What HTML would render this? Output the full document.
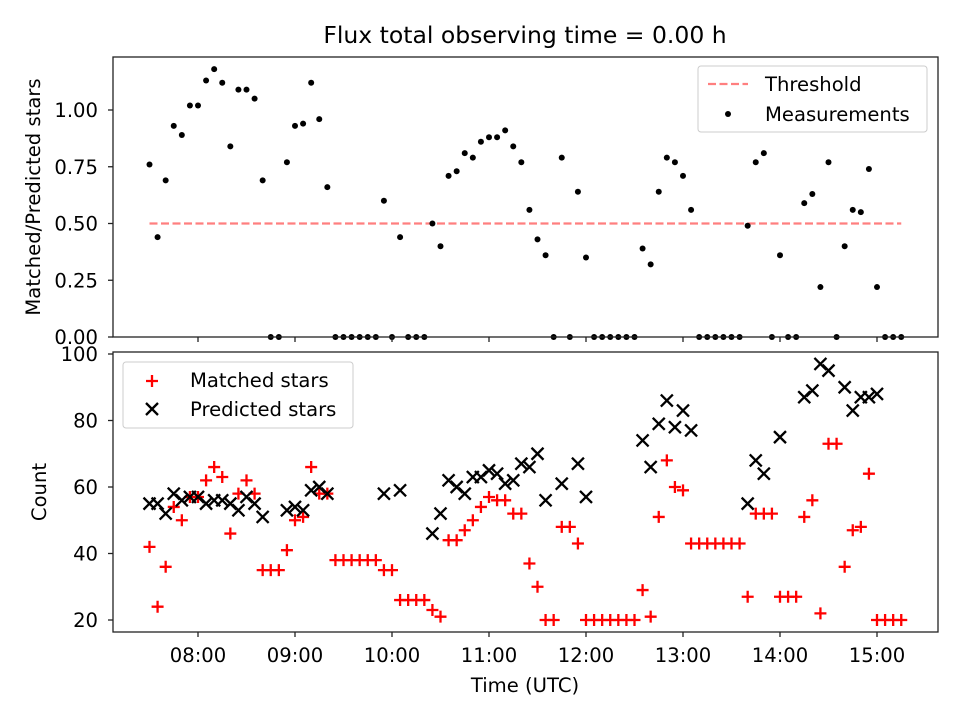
<!DOCTYPE html>
<html><head><meta charset="utf-8"><style>
body{margin:0;background:#fff;}
svg{display:block;font-family:"DejaVu Sans","Liberation Sans",sans-serif;}
</style></head><body>
<svg id="c" width="960" height="720" viewBox="0 0 960 720">
<rect width="960" height="720" fill="#fff"/>
<text x="525" y="43" font-size="23.5" text-anchor="middle">Flux total observing time = 0.00 h</text>
<g id="gtop"></g>
<g id="gbot"></g>
</svg>
<script>
const ratio=[0.76,0.44,0.69,0.93,0.89,1.02,1.02,1.13,1.18,1.12,0.84,1.09,1.09,1.05,0.69,0,0,0.77,0.93,0.94,1.12,0.96,0.66,0,0,0,0,0,0,0.60,0,0.44,0,0,0,0.50,0.40,0.71,0.73,0.81,0.79,0.86,0.88,0.88,0.91,0.84,0.77,0.56,0.43,0.36,0,0.79,0,0.64,0.35,0,0,0,0,0,0,0.39,0.32,0.64,0.79,0.77,0.71,0.56,0,0,0,0,0,0,0.49,0.77,0.81,0,0.36,0,0,0.59,0.63,0.22,0.77,0,0.40,0.56,0.55,0.74,0.22,0,0,0];
const matched=[42,24,36,54,50,57,57,62,66,63,46,58,62,58,35,35,35,41,50,51,66,58,58,38,38,38,38,38,38,35,35,26,26,26,26,23,21,44,44,47,50,54,57,56,56,52,52,37,30,20,20,48,48,43,20,20,20,20,20,20,20,29,21,51,68,60,59,43,43,43,43,43,43,43,27,52,52,52,27,27,27,51,56,22,73,73,36,47,48,64,20,20,20,20];
const predicted=[55,55,52,58,56,57,57,55,56,56,55,53,57,55,51,null,null,53,54,53,59,60,58,null,null,null,null,null,null,58,null,59,null,null,null,46,52,62,60,58,63,63,65,64,61,62,67,66,70,56,null,61,null,67,57,null,null,null,null,null,null,74,66,79,86,78,83,77,null,null,null,null,null,null,55,68,64,null,75,null,null,87,89,97,95,null,90,83,87,87,88,null,null,null];
const startHour=7.5, stepMin=5;
const xTicks=["08:00","09:00","10:00","11:00","12:00","13:00","14:00","15:00"];
const yTicksTop=[0,0.25,0.5,0.75,1.0];
const yTicksBot=[20,40,60,80,100];
const threshold=0.5;

const NS="http://www.w3.org/2000/svg";
const L=113,R=938;
const FS=19.6;
const xs=h=>198+(h-8)*97;
const yt=v=>337-v*227;
const yb=v=>620-(v-20)*3.325;
function el(p,tag,a){const e=document.createElementNS(NS,tag);for(const k in a)e.setAttribute(k,a[k]);p.appendChild(e);return e;}
const gTop=document.getElementById('gtop'),gBot=document.getElementById('gbot');
const tOf=i=>startHour+i*stepMin/60;

const th=el(gTop,'line',{x1:xs(tOf(0)),x2:xs(tOf(ratio.length-1)),y1:yt(threshold),y2:yt(threshold),stroke:'#ff0000','stroke-opacity':0.5,'stroke-width':2.2,'stroke-dasharray':'8,3.5'});


ratio.forEach((v,i)=>{
  const c=el(gTop,'circle',{cx:xs(tOf(i)),cy:yt(v),r:3,fill:'#000'});
  
  
});
function plus(g,x,y){return el(g,'path',{d:`M${x-6},${y}H${x+6}M${x},${y-6}V${y+6}`,stroke:'#f00','stroke-width':2.3});}
function cross(g,x,y){return el(g,'path',{d:`M${x-6},${y-6}L${x+6},${y+6}M${x-6},${y+6}L${x+6},${y-6}`,stroke:'#000','stroke-width':2.3});}
matched.forEach((v,i)=>{
  const p=plus(gBot,xs(tOf(i)),yb(v));
  
  
});
predicted.forEach((v,i)=>{
  if(v===null)return;
  const p=cross(gBot,xs(tOf(i)),yb(v));
  
  
});
const f1=el(gTop,'rect',{x:L,y:57,width:R-L,height:280,fill:'none',stroke:'#222','stroke-width':1.3});


const f2=el(gBot,'rect',{x:L,y:352,width:R-L,height:280,fill:'none',stroke:'#222','stroke-width':1.3});


xTicks.forEach((s,i)=>{
  const x=xs(8+i);
  el(gTop,'line',{x1:x,x2:x,y1:337,y2:342,stroke:'#222','stroke-width':1.3});
  el(gBot,'line',{x1:x,x2:x,y1:632,y2:637,stroke:'#222','stroke-width':1.3});
  const t=el(gBot,'text',{x:x,y:662,'font-size':FS,'text-anchor':'middle'});t.textContent=s;
  
  
});
yTicksTop.forEach(v=>{
  const y=yt(v);
  el(gTop,'line',{x1:L-5,x2:L,y1:y,y2:y,stroke:'#222','stroke-width':1.3});
  const t=el(gTop,'text',{x:98,y:y+7,'font-size':FS,'text-anchor':'end'});t.textContent=v.toFixed(2);
  
  
});
yTicksBot.forEach(v=>{
  const y=yb(v);
  el(gBot,'line',{x1:L-5,x2:L,y1:y,y2:y,stroke:'#222','stroke-width':1.3});
  const t=el(gBot,'text',{x:98,y:y+7,'font-size':FS,'text-anchor':'end'});t.textContent=v;
  
  
});
</script>
<svg style="position:absolute;left:0;top:0" width="960" height="720">
<text x="40" y="197" font-size="19.6" text-anchor="middle" transform="rotate(-90 40 197)">Matched/Predicted stars</text>
<text x="46" y="492" font-size="19.6" text-anchor="middle" transform="rotate(-90 46 492)">Count</text>
<text x="525" y="692" font-size="19.6" text-anchor="middle">Time (UTC)</text>
<g>
<rect x="698" y="66" width="229" height="66" rx="3" fill="#fff" fill-opacity="0.8" stroke="#ccc"/>
<line x1="708" x2="748" y1="84" y2="84" stroke="#f00" stroke-opacity="0.5" stroke-width="2.2" stroke-dasharray="8,3.5"/>
<text x="765" y="91" font-size="19.6">Threshold</text>
<circle cx="728" cy="114" r="3" fill="#000"/>
<text x="765" y="121" font-size="19.6">Measurements</text>
</g>
<g>
<rect x="123" y="362" width="230" height="66" rx="3" fill="#fff" fill-opacity="0.8" stroke="#ccc"/>
<path d="M146,381H158M152,375V387" stroke="#f00" stroke-width="2.3"/>
<text x="190" y="387" font-size="19.6">Matched stars</text>
<path d="M146,403L158,415M146,415L158,403" stroke="#000" stroke-width="2.3"/>
<text x="190" y="416" font-size="19.6">Predicted stars</text>
</g>
</svg>
</body></html>
